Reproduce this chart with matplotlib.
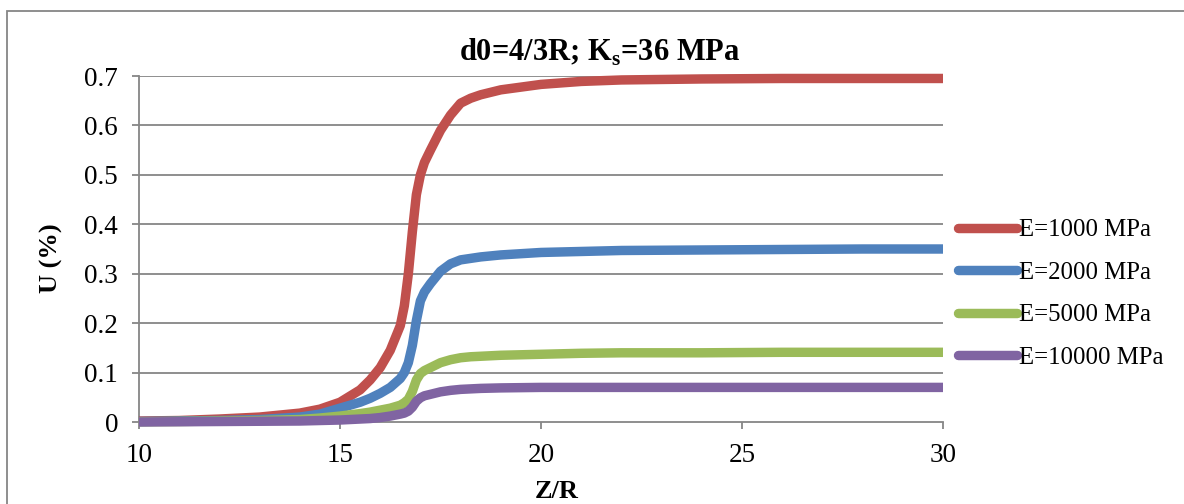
import matplotlib
matplotlib.use("Agg")
import matplotlib.pyplot as plt
from matplotlib.patches import Rectangle

plt.rcParams['font.family'] = ['Liberation Serif', 'DejaVu Serif']
plt.rcParams['mathtext.fontset'] = 'custom'
plt.rcParams['mathtext.rm'] = 'Liberation Serif:bold'
plt.rcParams['mathtext.bf'] = 'Liberation Serif:bold'

# ---- data ----
z_r = [10, 11, 12, 13, 14, 14.5, 15, 15.5, 15.75, 16, 16.25, 16.5, 16.6, 16.7,
       16.8, 16.9, 17.0, 17.1, 17.25, 17.5, 17.75, 18, 18.25, 18.5, 19, 20, 21,
       22, 24, 26, 28, 30]
u_e1000 = [0.002, 0.003, 0.006, 0.010, 0.018, 0.026, 0.040, 0.065, 0.085, 0.110,
           0.145, 0.195, 0.235, 0.300, 0.385, 0.460, 0.500, 0.525, 0.550, 0.590,
           0.621, 0.645, 0.655, 0.662, 0.672, 0.683, 0.689, 0.692, 0.694, 0.695,
           0.695, 0.695]
u_e2000 = [0.001, 0.002, 0.003, 0.005, 0.010, 0.016, 0.028, 0.040, 0.048, 0.058,
           0.070, 0.088, 0.100, 0.120, 0.155, 0.205, 0.245, 0.263, 0.280, 0.305,
           0.320, 0.328, 0.331, 0.334, 0.338, 0.343, 0.345, 0.347, 0.348, 0.349,
           0.350, 0.350]
u_e5000 = [0.0005, 0.001, 0.002, 0.003, 0.005, 0.008, 0.012, 0.017, 0.020, 0.024,
           0.028, 0.034, 0.039, 0.046, 0.062, 0.085, 0.098, 0.104, 0.110, 0.120,
           0.126, 0.130, 0.132, 0.133, 0.135, 0.137, 0.139, 0.140, 0.140, 0.141,
           0.141, 0.141]
u_e10000 = [0.0, 0.0005, 0.001, 0.0015, 0.002, 0.003, 0.004, 0.006, 0.007, 0.009,
            0.012, 0.016, 0.018, 0.022, 0.030, 0.042, 0.049, 0.053, 0.056, 0.061,
            0.064, 0.066, 0.067, 0.068, 0.069, 0.070, 0.070, 0.070, 0.070, 0.070,
            0.070, 0.070]
series_labels = ["E=1000 MPa", "E=2000 MPa", "E=5000 MPa", "E=10000 MPa"]
series_colors = ["#C0504D", "#4F81BD", "#9BBB59", "#8064A2"]
x_ticks = [10, 15, 20, 25, 30]
y_ticks = [0, 0.1, 0.2, 0.3, 0.4, 0.5, 0.6, 0.7]
y_ticklabels = ["0", "0.1", "0.2", "0.3", "0.4", "0.5", "0.6", "0.7"]
title_text = r"d0=4/3R; K$_{\mathbf{s}}$=36 MPa"

W, H = 1184, 504
fig = plt.figure(figsize=(W / 100, H / 100), dpi=100)

# outer chart frame
fig.patches.append(Rectangle((7 / W, -0.1), 1.2, 1 - 11 / H + 0.1,
                             transform=fig.transFigure, fill=False,
                             edgecolor="#868686", linewidth=1.3))

ax = fig.add_axes([139 / W, 82 / H, (943 - 139) / W, (422 - 76) / H])
grey = "#868686"
for y in y_ticks[1:]:
    ax.axhline(y, color=grey, linewidth=1.3, zorder=1)

for u, lab, col in zip([u_e1000, u_e2000, u_e5000, u_e10000], series_labels, series_colors):
    ax.plot(z_r, u, color=col, linewidth=6.8, label=lab, clip_on=False,
            solid_capstyle="butt", solid_joinstyle="round", zorder=3)

ax.set_xlim(10, 30)
ax.set_ylim(0, 0.7)
ax.set_xticks(x_ticks)
ax.set_yticks(y_ticks)
ax.set_yticklabels(y_ticklabels)
for s in ["top", "right"]:
    ax.spines[s].set_visible(False)
for s in ["left", "bottom"]:
    ax.spines[s].set_color(grey)
    ax.spines[s].set_linewidth(1.3)
ax.tick_params(axis="both", direction="out", length=5, width=1.3, color=grey,
               labelsize=19.5, pad=10)

ax.set_xlabel("Z/R", fontsize=19, fontweight="bold", va="top")
ax.xaxis.set_label_coords(0.519, -0.168)
ax.set_ylabel("U (%)", fontsize=19, fontweight="bold")
ax.yaxis.set_label_coords(-0.094, 0.474)

fig.text(600 / W, 1 - 61 / H, title_text, ha="center", va="baseline",
         fontsize=22, fontweight="bold")

handles, labels = ax.get_legend_handles_labels()
leg = fig.legend(handles, labels, loc="center left",
                 bbox_to_anchor=(958 / W, 1 - 294 / H), frameon=False,
                 fontsize=17.8, handlelength=2.4, handletextpad=0.05,
                 labelspacing=0.82, borderpad=0, borderaxespad=0)
for line in leg.get_lines():
    line.set_solid_capstyle("round")
    line.set_linewidth(6.8)

fig.savefig("out.png", dpi=100)
